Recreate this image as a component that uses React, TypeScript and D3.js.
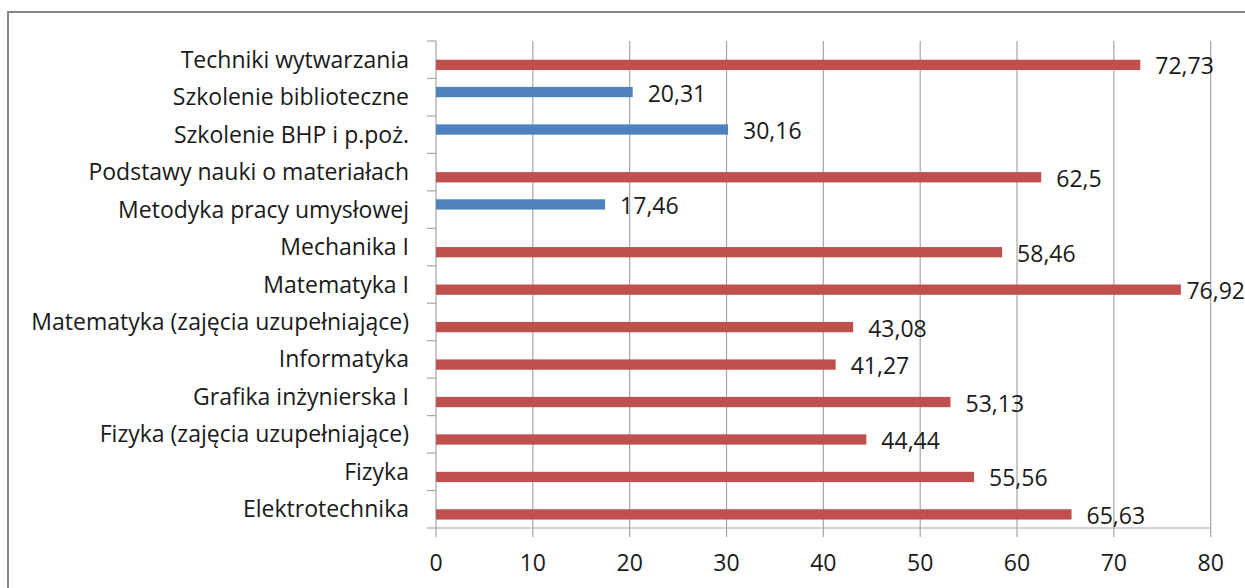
import React, { useEffect, useRef } from "react";
import * as d3 from "d3";

// Categories listed top to bottom
const categories: string[] = [
  "Techniki wytwarzania",
  "Szkolenie biblioteczne",
  "Szkolenie BHP i p.poż.",
  "Podstawy nauki o materiałach",
  "Metodyka pracy umysłowej",
  "Mechanika I",
  "Matematyka I",
  "Matematyka (zajęcia uzupełniające)",
  "Informatyka",
  "Grafika inżynierska I",
  "Fizyka (zajęcia uzupełniające)",
  "Fizyka",
  "Elektrotechnika",
];

// Blue series (null where the category has no value)
const blueValues: (number | null)[] = [
  null, 20.31, 30.16, null, 17.46, null, null, null, null, null, null, null, null,
];

// Red series
const redValues: (number | null)[] = [
  72.73, null, null, 62.5, null, 58.46, 76.92, 43.08, 41.27, 53.13, 44.44, 55.56, 65.63,
];

const xTicks: number[] = [0, 10, 20, 30, 40, 50, 60, 70, 80];

const W = 1245;
const H = 588;
const FONT = "'Open Sans', 'Noto Sans', sans-serif";
const FS = 23;

export default function App() {
  const ref = useRef<SVGSVGElement | null>(null);

  useEffect(() => {
    const svg = d3.select(ref.current);
    svg.selectAll("*").remove();

    const left = 436;
    const right = 1210.7;
    const top = 41;
    const bottom = 528;

    const x = d3.scaleLinear().domain([0, 80]).range([left, right]);
    const y = d3.scaleBand<string>().domain(categories).range([top, bottom]).padding(0);
    const sub = d3
      .scaleBand<string>()
      .domain(["blue", "red"])
      .range([0, y.bandwidth()])
      .paddingInner(0)
      .paddingOuter(0.82);

    // Outer chart frame
    svg
      .append("rect")
      .attr("x", 8)
      .attr("y", 12)
      .attr("width", W + 20)
      .attr("height", H + 20)
      .attr("fill", "#fff")
      .attr("stroke", "#878787")
      .attr("stroke-width", 2);

    // Vertical gridlines
    svg
      .append("g")
      .selectAll("line")
      .data(xTicks.slice(1))
      .join("line")
      .attr("x1", (d) => x(d))
      .attr("x2", (d) => x(d))
      .attr("y1", top)
      .attr("y2", bottom)
      .attr("stroke", "#a6a6a6")
      .attr("stroke-width", 1.2);

    // Category axis
    svg
      .append("line")
      .attr("x1", left)
      .attr("x2", left)
      .attr("y1", top)
      .attr("y2", bottom)
      .attr("stroke", "#a6a6a6")
      .attr("stroke-width", 1.2);
    const bounds = categories.map((c) => y(c)!).concat([bottom]);
    svg
      .append("g")
      .selectAll("line")
      .data(bounds)
      .join("line")
      .attr("x1", left - 9)
      .attr("x2", left)
      .attr("y1", (d) => d)
      .attr("y2", (d) => d)
      .attr("stroke", "#a6a6a6")
      .attr("stroke-width", 1.2);

    // Value axis
    svg
      .append("line")
      .attr("x1", left)
      .attr("x2", right)
      .attr("y1", bottom)
      .attr("y2", bottom)
      .attr("stroke", "#a6a6a6")
      .attr("stroke-width", 1.2);
    svg
      .append("g")
      .selectAll("line")
      .data(xTicks)
      .join("line")
      .attr("x1", (d) => x(d))
      .attr("x2", (d) => x(d))
      .attr("y1", bottom)
      .attr("y2", bottom + 9)
      .attr("stroke", "#a6a6a6")
      .attr("stroke-width", 1.2);
    svg
      .append("g")
      .selectAll("text")
      .data(xTicks)
      .join("text")
      .attr("x", (d) => x(d))
      .attr("y", 571)
      .attr("text-anchor", "middle")
      .attr("font-family", FONT)
      .attr("font-size", FS)
      .attr("fill", "#1a1a1a")
      .text((d) => String(d));

    // Category labels
    svg
      .append("g")
      .selectAll("text")
      .data(categories)
      .join("text")
      .attr("x", 409)
      .attr("y", (d) => y(d)! + y.bandwidth() / 2 + 8)
      .attr("text-anchor", "end")
      .attr("font-family", FONT)
      .attr("font-size", FS)
      .attr("fill", "#1a1a1a")
      .text((d) => d);

    const series = [
      { key: "blue", values: blueValues, color: "#4f81bd" },
      { key: "red", values: redValues, color: "#c0504d" },
    ];

    const fmt = (v: number) => String(v).replace(".", ",");

    series.forEach((s) => {
      const rows = categories
        .map((c, i) => ({ c, v: s.values[i] }))
        .filter((r) => r.v !== null) as { c: string; v: number }[];
      const g = svg.append("g");
      g.selectAll("rect")
        .data(rows)
        .join("rect")
        .attr("x", left)
        .attr("y", (d) => y(d.c)! + sub(s.key)!)
        .attr("width", (d) => x(d.v) - left)
        .attr("height", sub.bandwidth())
        .attr("fill", s.color);

      g.selectAll("text")
        .data(rows)
        .join("text")
        .attr("x", (d) => x(d.v) + 15)
        .attr("y", (d) => y(d.c)! + sub(s.key)! + sub.bandwidth() / 2 + 9.5)
        .attr("font-family", FONT)
        .attr("font-size", FS)
        .attr("fill", "#1a1a1a")
        .text((d) => fmt(d.v))
        .each(function (d) {
          // keep labels inside the chart frame
          const el = this as SVGTextElement;
          const w = el.getComputedTextLength();
          const maxX = W - w;
          const x0 = x(d.v) + 15;
          if (x0 > maxX) el.setAttribute("x", String(Math.max(x(d.v) + 2, maxX)));
        });
    });
  }, []);

  return (
    <svg
      ref={ref}
      width={W}
      height={H}
      style={{ position: "absolute", left: 0, top: 0, background: "#fff" }}
    />
  );
}
